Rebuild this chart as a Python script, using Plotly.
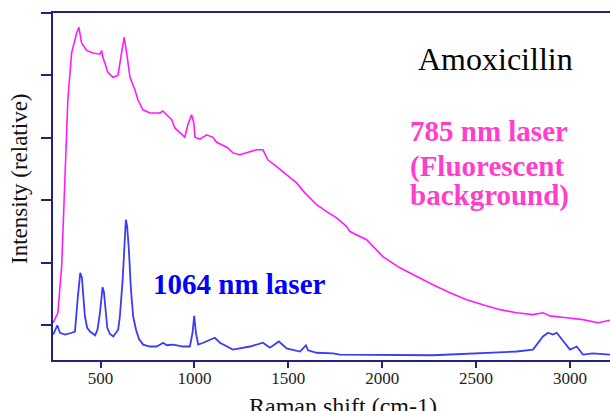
import plotly.graph_objects as go

# ---------------- data ----------------
raman_785_x = [248, 273, 293, 310, 326, 346, 373, 385, 399, 426, 460, 497, 506, 513, 539, 566, 593, 612, 626, 639,
               657, 683, 699, 726, 763, 816, 832, 852, 879, 896, 932, 949, 965, 985, 997, 1003, 1029, 1065, 1099,
               1118, 1172, 1205, 1242, 1285, 1331, 1365, 1391, 1438, 1491, 1544, 1588, 1651, 1704, 1757, 1811,
               1828, 1917, 2004, 2094, 2183, 2270, 2361, 2450, 2536, 2627, 2716, 2803, 2856, 2893, 2982, 3069,
               3149, 3213]
raman_785_y = [1.04, 1.20, 1.94, 3.28, 4.61, 5.36, 5.68, 5.77, 5.52, 5.40, 5.36, 5.34, 5.40, 5.29, 5.05, 4.97, 5.00,
               5.36, 5.61, 5.36, 4.97, 4.77, 4.61, 4.45, 4.40, 4.40, 4.43, 4.37, 4.29, 4.16, 4.05, 4.01, 4.21, 4.37,
               4.24, 4.01, 3.98, 4.05, 4.01, 3.93, 3.85, 3.76, 3.73, 3.77, 3.81, 3.81, 3.65, 3.54, 3.41, 3.28, 3.12,
               2.93, 2.82, 2.72, 2.58, 2.50, 2.37, 2.10, 1.92, 1.78, 1.65, 1.52, 1.41, 1.33, 1.25, 1.20, 1.17, 1.20,
               1.15, 1.12, 1.09, 1.04, 1.08]

raman_1064_x = [248, 270, 284, 311, 347, 364, 378, 387, 392, 401, 408, 417, 429, 444, 471, 484, 497, 506, 511, 518,
                527, 536, 550, 568, 594, 603, 618, 628, 635, 642, 651, 662, 674, 689, 705, 727, 763, 799, 834, 852,
                887, 940, 976, 990, 999, 1008, 1020, 1047, 1083, 1109, 1136, 1205, 1296, 1365, 1402, 1450, 1491,
                1562, 1594, 1605, 1651, 1738, 1775, 2270, 2716, 2803, 2856, 2883, 2909, 2929, 3000, 3036, 3069,
                3122, 3213]
raman_1064_y = [0.85, 1.00, 0.88, 0.85, 0.88, 0.90, 1.41, 1.73, 1.84, 1.76, 1.46, 1.14, 0.96, 0.90, 0.84, 0.93, 1.20,
                1.54, 1.61, 1.54, 1.20, 0.96, 0.86, 0.82, 0.93, 1.14, 1.73, 2.37, 2.69, 2.58, 2.21, 1.57, 1.14, 0.93,
                0.78, 0.69, 0.66, 0.66, 0.72, 0.68, 0.69, 0.66, 0.66, 0.88, 1.15, 0.88, 0.69, 0.72, 0.77, 0.80, 0.72,
                0.61, 0.66, 0.72, 0.64, 0.74, 0.63, 0.58, 0.68, 0.60, 0.56, 0.55, 0.53, 0.52, 0.58, 0.61, 0.82, 0.88,
                0.85, 0.88, 0.61, 0.66, 0.53, 0.55, 0.53]

x_tick_vals = [500, 1000, 1500, 2000, 2500, 3000]
x_tick_labels = ["500", "1000", "1500", "2000", "2500", "3000"]
y_tick_vals = [1, 2, 3, 4, 5, 6]

# ---------------- layout geometry ----------------
W, H = 610, 411
ML, MR, MT, MB = 53, 0, 13, 51
PW, PH = W - ML - MR, H - MT - MB


def px_x(px):
    return (px - ML) / PW


def px_y(py):
    return (H - MB - py) / PH


AXIS = "#22227c"
SERIF = "Liberation Serif, Times New Roman, serif"

fig = go.Figure()
fig.add_trace(go.Scatter(x=raman_785_x, y=raman_785_y, mode="lines",
                         line=dict(color="#ff1aff", width=1.6), showlegend=False))
fig.add_trace(go.Scatter(x=raman_1064_x, y=raman_1064_y, mode="lines",
                         line=dict(color="#3c3cf5", width=1.8), showlegend=False))

fig.update_layout(
    width=W, height=H,
    margin=dict(l=ML, r=MR, t=MT, b=MB),
    paper_bgcolor="white", plot_bgcolor="white",
    font=dict(family=SERIF, color="#222222"),
    xaxis=dict(range=[247, 3213], tickvals=x_tick_vals, ticktext=x_tick_labels,
               showgrid=False, zeroline=False, showline=True, linecolor=AXIS, linewidth=2,
               mirror=True, ticks="outside", ticklen=6, tickwidth=2, tickcolor=AXIS,
               ticklabelstandoff=-4,
               tickfont=dict(size=17, family=SERIF, color="#222222")),
    yaxis=dict(range=[0.444, 6.0], tickvals=y_tick_vals, showticklabels=False,
               showgrid=False, zeroline=False, showline=True, linecolor=AXIS, linewidth=2,
               ticks="outside", ticklen=10, tickwidth=2, tickcolor=AXIS),
)

annots = [
    dict(text="Raman shift (cm-1)", x=px_x(343), y=px_y(406), size=24, color="#111111", bold=False,
         xanchor="center", angle=0),
    dict(text="Intensity (relative)", x=px_x(20), y=px_y(179), size=23, color="#111111", bold=False,
         xanchor="center", angle=-90),
    dict(text="Amoxicillin", x=px_x(495), y=px_y(59), size=32, color="#000000", bold=False,
         xanchor="center", angle=0),
    dict(text="785 nm laser", x=px_x(408), y=px_y(131), size=29, color="#ff3fcc", bold=True,
         xanchor="left", angle=0),
    dict(text="(Fluorescent", x=px_x(408), y=px_y(166), size=29, color="#ff3fcc", bold=True,
         xanchor="left", angle=0),
    dict(text="background)", x=px_x(408), y=px_y(195), size=29, color="#ff3fcc", bold=True,
         xanchor="left", angle=0),
    dict(text="1064 nm laser", x=px_x(151), y=px_y(284), size=29, color="#0000ff", bold=True,
         xanchor="left", angle=0),
]
for a in annots:
    txt = "<b>%s</b>" % a["text"] if a["bold"] else a["text"]
    fig.add_annotation(text=txt, x=a["x"], y=a["y"], xref="paper", yref="paper",
                       xanchor=a["xanchor"], yanchor="middle", showarrow=False,
                       textangle=a["angle"],
                       font=dict(size=a["size"], color=a["color"], family=SERIF))

fig.write_html("out.html")
